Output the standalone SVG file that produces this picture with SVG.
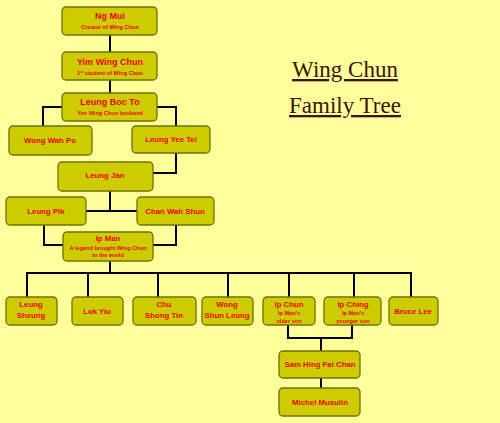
<svg xmlns="http://www.w3.org/2000/svg" width="500" height="423" viewBox="0 0 500 423">
<style>
.bg{fill:#ffff9c}
.box{fill:#cccc00;stroke:#707000;stroke-width:1.3}
.n{font-family:"Liberation Sans",Arial,sans-serif;font-weight:bold;font-size:7.8px;fill:#f00000;text-anchor:middle}
.N{font-family:"Liberation Sans",Arial,sans-serif;font-weight:bold;font-size:9px;fill:#f00000;text-anchor:middle}
.s{font-family:"Liberation Sans",Arial,sans-serif;font-weight:bold;font-size:5.6px;fill:#f00000;text-anchor:middle}
.t{font-family:"Liberation Serif","Times New Roman",serif;font-size:23px;fill:#3a1405;text-anchor:middle;text-decoration:underline}
#connectors path{fill:none;stroke:#000;stroke-width:2}
</style>
<rect class="bg" x="0" y="0" width="500" height="423"/>
<g id="title">
<text class="t" x="345" y="77">Wing Chun</text>
<text class="t" x="345" y="113">Family Tree</text>
</g>
<g id="connectors">
<path d="M110 35V52"/>
<path d="M110 80V93"/>
<path d="M62 107H43V126"/>
<path d="M157 107H176V126"/>
<path d="M176 153V173H153"/>
<path d="M110 191V211"/>
<path d="M86 211H137"/>
<path d="M44 225V245H63"/>
<path d="M176 225V245H153"/>
<path d="M110 261V273"/>
<path d="M27 297V273H411V297"/>
<path d="M88 273V297M158 273V297M228 273V297M289 273V297M354 273V297"/>
<path d="M288 325V338H352V325"/>
<path d="M321 338V351"/>
<path d="M321 378V388"/>
</g>
<g id="ng-mui"><rect class="box" x="62" y="7" width="95" height="28" rx="4"/><text class="N" x="110" y="19">Ng Mui</text><text class="s" x="110" y="29" font-size="6px">Creator of Wing Chun</text></g>
<g id="yim-wing-chun"><rect class="box" x="62" y="52" width="95" height="28" rx="4"/><text class="N" x="110" y="65">Yim Wing Chun</text><text class="s" x="110" y="75">1<tspan font-size="3.5px" baseline-shift="super">st</tspan> student of Wing Chun</text></g>
<g id="leung-boc-to"><rect class="box" x="62" y="93" width="95" height="28" rx="4"/><text class="N" x="110" y="105">Leung Boc To</text><text class="s" x="110" y="115">Yim Wing Chun husband</text></g>
<g id="wong-wah-po"><rect class="box" x="9" y="126" width="83" height="29" rx="4"/><text class="n" x="50" y="143">Wong Wah Po</text></g>
<g id="leung-yee-tei"><rect class="box" x="132" y="126" width="78" height="27" rx="4"/><text class="n" x="171" y="142">Leung Yee Tei</text></g>
<g id="leung-jan"><rect class="box" x="58" y="162" width="95" height="29" rx="4"/><text class="n" x="105" y="178">Leung Jan</text></g>
<g id="leung-pik"><rect class="box" x="6" y="197" width="80" height="28" rx="4"/><text class="n" x="46" y="214">Leung Pik</text></g>
<g id="chan-wah-shun"><rect class="box" x="137" y="197" width="77" height="28" rx="4"/><text class="n" x="175" y="214">Chan Wah Shun</text></g>
<g id="ip-man"><rect class="box" x="63" y="232" width="90" height="29" rx="4"/><text class="n" x="108" y="241">Ip Man</text><text class="s" x="108" y="250">A legend brought Wing Chun</text><text class="s" x="108" y="257">to the world</text></g>
<g id="leung-sheung"><rect class="box" x="6" y="297" width="51" height="28" rx="4"/><text class="n" x="31" y="307">Leung</text><text class="n" x="31" y="318">Sheung</text></g>
<g id="lok-yiu"><rect class="box" x="72" y="297" width="51" height="28" rx="4"/><text class="n" x="97" y="314">Lok Yiu</text></g>
<g id="chu-shong-tin"><rect class="box" x="133" y="297" width="63" height="28" rx="4"/><text class="n" x="164" y="307">Chu</text><text class="n" x="164" y="318">Shong Tin</text></g>
<g id="wong-shun-leung"><rect class="box" x="202" y="297" width="51" height="28" rx="4"/><text class="n" x="227" y="307">Wong</text><text class="n" x="227" y="318">Shun Leung</text></g>
<g id="ip-chun"><rect class="box" x="263" y="297" width="52" height="28" rx="4"/><text class="n" x="289" y="307">Ip Chun</text><text class="s" x="289" y="315">Ip Man's</text><text class="s" x="289" y="323">older son</text></g>
<g id="ip-ching"><rect class="box" x="324" y="297" width="57" height="28" rx="4"/><text class="n" x="353" y="307">Ip Ching</text><text class="s" x="353" y="315">Ip Man's</text><text class="s" x="353" y="323">younger son</text></g>
<g id="bruce-lee"><rect class="box" x="389" y="297" width="49" height="28" rx="4"/><text class="n" x="413" y="314">Bruce Lee</text></g>
<g id="sam-hing-fai-chan"><rect class="box" x="279" y="351" width="81" height="27" rx="4"/><text class="n" x="320" y="367">Sam Hing Fai Chan</text></g>
<g id="michel-musulin"><rect class="box" x="279" y="388" width="81" height="28" rx="4"/><text class="n" x="320" y="405">Michel Musulin</text></g>
</svg>
